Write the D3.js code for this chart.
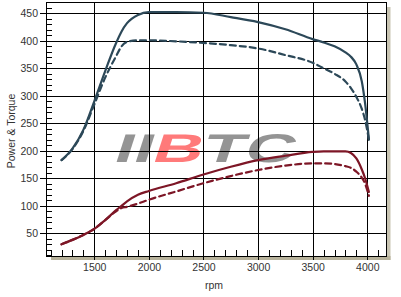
<!DOCTYPE html>
<html>
<head>
<meta charset="utf-8">
<script src="https://cdn.jsdelivr.net/npm/d3@7"></script>
<style>
  body { margin: 0; background: #fff; }
  svg { display: block; font-family: "Liberation Sans", Arial, sans-serif; }
</style>
</head>
<body>
<svg id="chart" width="401" height="297"></svg>
<script>
// data
var rpm = [1200, 1300, 1400, 1500, 1600, 1700, 1750, 1800, 1900, 2000, 2250, 2500, 2750, 3000, 3250, 3500, 3600, 3700, 3800, 3850, 3900, 3950, 3980, 4015];
var powerTuned  = [183, 204, 238, 290, 345, 396, 417, 432, 447, 452, 452, 451, 443, 434, 421, 403, 397, 390, 379, 371, 357, 326, 286, 220];
var powerStock  = [183, 203, 236, 284, 333, 372, 390, 398, 401, 401, 399, 396, 392, 386, 374, 360, 350, 340, 326, 314, 298, 276, 256, 220];
var torqueTuned = [30, 38, 47, 58, 74, 92, 100, 108, 120, 127, 141, 157, 171, 183, 191, 198, 199, 199, 199, 196, 186, 166, 150, 125];
var torqueStock = [30, 38, 47, 58, 74, 90, 96, 98, 104, 111, 126, 141, 154, 165, 173, 177, 177, 176, 172, 169, 162, 151, 140, 118];
var xTicks = [1500, 2000, 2500, 3000, 3500, 4000];
var yTicks = [50, 100, 150, 200, 250, 300, 350, 400, 450];

var blue = "#2c4858", red = "#7d1626";

var svg = d3.select("#chart");
var pLeft = 46, pRight = 386.5, pTop = 2, pBottom = 256;

var x = d3.scaleLinear().domain([1058, 4176]).range([pLeft, pRight]);
var y = d3.scaleLinear().domain([8.7, 470.5]).range([pBottom, pTop]);

// drop shadow of the plot frame
svg.append("rect").attr("x", pRight).attr("y", pTop + 5).attr("width", 4).attr("height", pBottom - pTop - 1)
  .attr("fill", "#c9c5b3");
svg.append("rect").attr("x", pLeft + 5).attr("y", pBottom).attr("width", pRight - pLeft - 1).attr("height", 4)
  .attr("fill", "#b7b29b");
svg.append("rect").attr("x", pLeft).attr("y", pTop).attr("width", pRight - pLeft).attr("height", pBottom - pTop)
  .attr("fill", "#fff");

// watermark logo
var logo = svg.append("text")
  .attr("transform", "translate(112,162) skewX(-18)")
  .attr("font-size", 40).attr("font-weight", "bold")
  .attr("textLength", 180).attr("lengthAdjust", "spacingAndGlyphs")
  .attr("opacity", 0.8);
logo.append("tspan").attr("fill", "#7a7a7a").text("II");
logo.append("tspan").attr("fill", "#ff5a5a").text("B");
logo.append("tspan").attr("fill", "#7a7a7a").text("TC");

// grid
svg.append("g").attr("transform", "translate(0," + pBottom + ")")
  .call(d3.axisBottom(x).tickValues(xTicks).tickSize(-(pBottom - pTop)).tickFormat(""))
  .call(function(g) { g.select(".domain").remove(); })
  .selectAll("line").attr("stroke", "#000").attr("shape-rendering", "crispEdges");
svg.append("g").attr("transform", "translate(" + pLeft + ",0)")
  .call(d3.axisLeft(y).tickValues(yTicks).tickSize(-(pRight - pLeft)).tickFormat(""))
  .call(function(g) { g.select(".domain").remove(); })
  .selectAll("line").attr("stroke", "#000").attr("shape-rendering", "crispEdges");

// minor ticks inside the frame
svg.append("g").attr("transform", "translate(0," + pBottom + ")")
  .call(d3.axisBottom(x).tickValues(d3.range(1100, 4200, 100)).tickSize(-6).tickFormat(""))
  .call(function(g) { g.select(".domain").remove(); })
  .selectAll("line").attr("stroke", "#000").attr("shape-rendering", "crispEdges");
svg.append("g").attr("transform", "translate(" + pLeft + ",0)")
  .call(d3.axisLeft(y).tickValues(d3.range(10, 471, 10)).tickSize(-6).tickFormat(""))
  .call(function(g) { g.select(".domain").remove(); })
  .selectAll("line").attr("stroke", "#000").attr("shape-rendering", "crispEdges");

// frame
svg.append("rect").attr("x", pLeft).attr("y", pTop).attr("width", pRight - pLeft).attr("height", pBottom - pTop)
  .attr("fill", "none").attr("stroke", "#000").attr("shape-rendering", "crispEdges");

// labelled axes
var xAxis = svg.append("g").attr("transform", "translate(0," + pBottom + ")")
  .call(d3.axisBottom(x).tickValues(xTicks).tickSize(4).tickPadding(4).tickFormat(d3.format("d")));
var yAxis = svg.append("g").attr("transform", "translate(" + pLeft + ",0)")
  .call(d3.axisLeft(y).tickValues(yTicks).tickSize(6).tickPadding(2));
[xAxis, yAxis].forEach(function(g) {
  g.select(".domain").remove();
  g.selectAll("line").attr("stroke", "#000").attr("shape-rendering", "crispEdges");
  g.selectAll("text").attr("fill", "#333").attr("font-size", "10.5px")
    .attr("font-family", "'Liberation Sans', Arial, sans-serif");
});

svg.append("text").attr("x", 214).attr("y", 289).attr("text-anchor", "middle")
  .attr("font-size", "10.5px").attr("fill", "#333").text("rpm");
svg.append("text").attr("transform", "translate(15,131) rotate(-90)").attr("text-anchor", "middle")
  .attr("font-size", "10.5px").attr("fill", "#333").text("Power & Torque");

// curves
var line = function(values) {
  return d3.line().curve(d3.curveMonotoneX)
    .x(function(d, i) { return x(rpm[i]); })
    .y(function(d) { return y(d); })(values);
};
var series = [
  { values: powerStock, color: blue, dash: "6,4" },
  { values: torqueStock, color: red, dash: "6,4" },
  { values: powerTuned, color: blue, dash: null },
  { values: torqueTuned, color: red, dash: null }
];
svg.selectAll("path.curve").data(series).enter().append("path")
  .attr("class", "curve")
  .attr("d", function(d) { return line(d.values); })
  .attr("fill", "none")
  .attr("stroke", function(d) { return d.color; })
  .attr("stroke-width", 2.2)
  .attr("stroke-dasharray", function(d) { return d.dash; })
  .attr("stroke-linecap", "round");
</script>
</body>
</html>
